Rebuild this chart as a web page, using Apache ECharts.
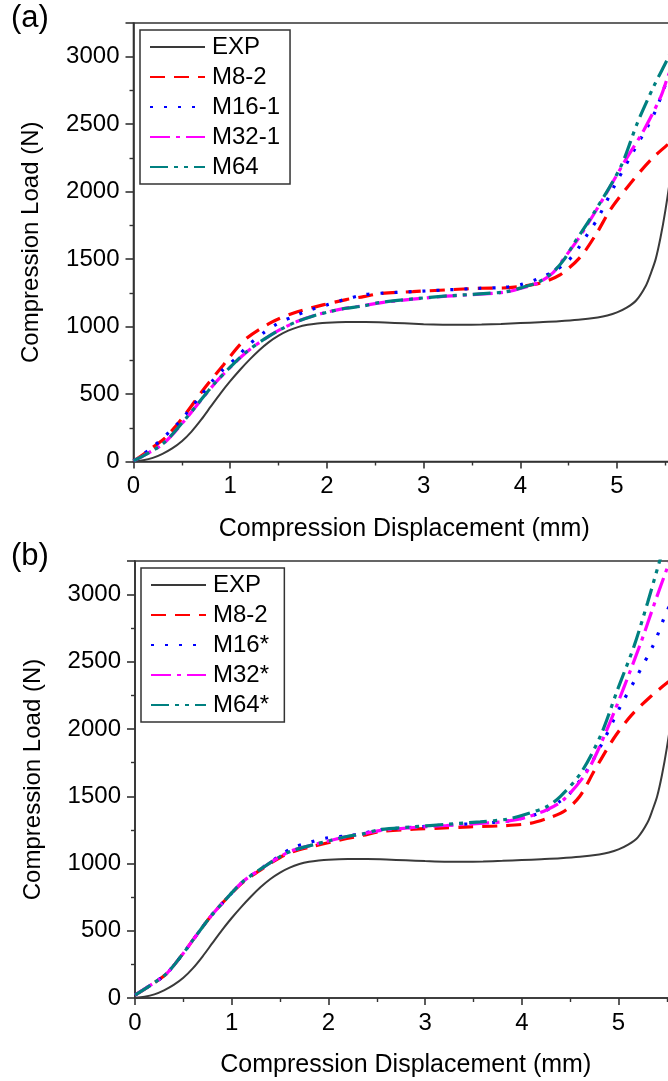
<!DOCTYPE html>
<html>
<head>
<meta charset="utf-8">
<script src="https://cdn.jsdelivr.net/npm/echarts@6/dist/echarts.min.js"></script>
<style>
  html, body { margin: 0; padding: 0; background: #fff; }
  #chart { width: 668px; height: 1081px; }
</style>
</head>
<body>
<div id="chart"></div>
<script>
// Compression load (N) versus compression displacement (mm), [x, y] pairs.

// Experimental curve (same test shown in both panels)
const expCurve = [[0,0],[0.1,9],[0.2,27],[0.3,57],[0.4,97],[0.5,150],[0.6,222],[0.7,310],[0.8,408],[0.9,505],[1.0,595],[1.1,678],[1.2,755],[1.3,825],[1.4,885],[1.5,933],[1.6,970],[1.7,996],[1.8,1013],[1.9,1023],[2.0,1029],[2.2,1033],[2.4,1033],[2.6,1030],[2.8,1024],[3.0,1018],[3.2,1014],[3.4,1013],[3.6,1015],[3.8,1020],[4.0,1026],[4.2,1032],[4.4,1039],[4.6,1050],[4.8,1068],[4.9,1082],[5.0,1105],[5.1,1140],[5.2,1195],[5.3,1305],[5.35,1395],[5.4,1500],[5.45,1660],[5.5,1860],[5.55,2100],[5.6,2400]];

// Panel (a) models
const m8_2 = [[0,5],[0.07,36],[0.2,105],[0.34,184],[0.53,345],[0.72,530],[0.93,716],[1.15,901],[1.41,1025],[1.65,1099],[1.96,1161],[2.2,1200],[2.38,1222],[2.55,1245],[2.89,1259],[3.24,1272],[3.58,1284],[3.82,1286],[4.0,1298],[4.2,1322],[4.41,1383],[4.62,1515],[4.79,1692],[4.93,1865],[5.14,2063],[5.35,2236],[5.52,2347],[5.6,2400]];
const m16_1 = [[0,5],[0.19,102],[0.46,283],[0.69,481],[0.81,592],[0.93,684],[1.07,773],[1.19,864],[1.34,951],[1.48,1018],[1.65,1074],[1.83,1124],[2.0,1161],[2.17,1198],[2.38,1235],[2.55,1247],[2.89,1259],[3.24,1272],[3.58,1284],[3.82,1290],[4.0,1310],[4.17,1351],[4.34,1408],[4.48,1477],[4.6,1581],[4.7,1690],[4.8,1800],[4.97,2038],[5.14,2261],[5.38,2570],[5.52,2829],[5.6,2960]];
const m32_1 = [[0,5],[0.1,42],[0.31,133],[0.53,305],[0.67,430],[0.84,578],[1.0,697],[1.17,812],[1.34,900],[1.51,975],[1.69,1037],[1.86,1080],[2.03,1112],[2.2,1137],[2.38,1155],[2.55,1176],[2.89,1203],[3.24,1225],[3.58,1240],[3.86,1257],[4.03,1288],[4.2,1330],[4.34,1400],[4.44,1494],[4.55,1600],[4.66,1717],[4.87,1964],[5.07,2212],[5.28,2459],[5.45,2700],[5.52,2840],[5.6,2990]];
const m64 = [[0,5],[0.1,41],[0.31,135],[0.53,308],[0.67,432],[0.84,580],[1.0,699],[1.17,814],[1.34,901],[1.51,975],[1.69,1037],[1.86,1079],[2.03,1111],[2.2,1136],[2.38,1153],[2.55,1178],[2.89,1205],[3.24,1227],[3.58,1242],[3.86,1259],[4.03,1292],[4.2,1334],[4.34,1405],[4.45,1494],[4.55,1610],[4.76,1841],[5.04,2187],[5.21,2508],[5.38,2780],[5.52,2978],[5.6,3100]];

// Panel (b) models
const m8_2b = [[0,22],[0.19,109],[0.33,184],[0.5,333],[0.6,432],[0.78,605],[0.95,742],[1.12,862],[1.33,968],[1.5,1045],[1.64,1090],[1.84,1128],[2.02,1158],[2.19,1186],[2.36,1210],[2.53,1238],[2.88,1256],[3.15,1263],[3.46,1273],[3.77,1280],[4.08,1298],[4.3,1345],[4.45,1395],[4.6,1500],[4.75,1690],[4.95,1930],[5.13,2100],[5.33,2240],[5.5,2342],[5.6,2390]];
const m16s = [[0,22],[0.19,109],[0.33,184],[0.5,333],[0.6,432],[0.78,605],[0.95,742],[1.12,868],[1.33,976],[1.5,1060],[1.64,1120],[1.81,1158],[1.98,1190],[2.19,1205],[2.36,1225],[2.53,1250],[2.88,1270],[3.22,1287],[3.57,1299],[3.85,1316],[4.05,1343],[4.26,1398],[4.4,1465],[4.5,1525],[4.68,1700],[4.85,1921],[5.02,2169],[5.19,2392],[5.37,2640],[5.5,2876],[5.6,3000]];
const m32s = [[0,22],[0.19,109],[0.33,184],[0.5,333],[0.6,432],[0.78,605],[0.95,742],[1.12,868],[1.33,973],[1.5,1052],[1.64,1100],[1.84,1139],[2.02,1171],[2.19,1201],[2.36,1221],[2.53,1245],[2.88,1268],[3.22,1283],[3.57,1298],[3.85,1315],[4.05,1345],[4.26,1400],[4.44,1480],[4.68,1690],[4.88,1995],[5.06,2318],[5.23,2640],[5.37,2930],[5.5,3190],[5.6,3380]];
const m64s = [[0,22],[0.19,109],[0.33,184],[0.5,333],[0.6,432],[0.78,605],[0.95,742],[1.12,868],[1.33,973],[1.5,1052],[1.64,1100],[1.84,1139],[2.02,1171],[2.19,1201],[2.36,1221],[2.53,1252],[2.88,1273],[3.22,1292],[3.57,1310],[3.85,1330],[4.05,1368],[4.26,1424],[4.4,1500],[4.61,1673],[4.82,1960],[4.99,2293],[5.16,2615],[5.3,2938],[5.42,3236],[5.5,3420]];

// Axis ranges and ticks
const xMin = 0, xMax = 5.6, xStep = 1;
const yMin = 0, yMax = 3250, yStep = 500;

const legendA = ['EXP', 'M8-2', 'M16-1', 'M32-1', 'M64'];
const legendB = ['EXP ', 'M8-2 ', 'M16*', 'M32*', 'M64*'];

const FONT = 'Liberation Sans, Arial, Helvetica, sans-serif';
const AXIS_COLOR = '#333';

// line styles per model
const styles = {
  exp:  { color: '#3a3a3a', width: 2,   type: 'solid' },
  m8:   { color: '#ff0000', width: 3.2, type: [15, 9] },
  m16:  { color: '#0000ff', width: 3.2, type: [3, 11] },
  m32:  { color: '#ff00ff', width: 3.2, type: [20, 6, 4, 6] },
  m64:  { color: '#008080', width: 3.2, type: [18, 6, 4, 6, 4, 6] }
};

function makeSeries(name, data, st, idx) {
  return {
    name: name,
    type: 'line',
    xAxisIndex: idx,
    yAxisIndex: idx,
    data: data,
    smooth: 0.3,
    symbol: 'none',
    animation: false,
    color: st.color,
    lineStyle: { color: st.color, width: st.width, type: st.type },
    z: st.type === 'solid' ? 2 : 3
  };
}

function xAxisFor(idx) {
  return {
    gridIndex: idx,
    type: 'value',
    min: xMin, max: xMax, interval: xStep,
    name: 'Compression Displacement (mm)',
    nameLocation: 'middle',
    nameGap: 55,
    nameTextStyle: { fontSize: 25, fontFamily: FONT, color: '#000' },
    axisLine: { show: true, onZero: false, lineStyle: { color: AXIS_COLOR, width: 1.6 } },
    axisTick: { show: true, length: 7, lineStyle: { color: AXIS_COLOR, width: 1.6 } },
    minorTick: { show: true, splitNumber: 2, length: 4, lineStyle: { color: AXIS_COLOR, width: 1.4 } },
    axisLabel: { fontSize: 24, fontFamily: FONT, color: '#000', margin: 13,
      formatter: v => (v > 5.05 ? '' : String(v)) },
    splitLine: { show: false }
  };
}

function yAxisFor(idx) {
  return {
    gridIndex: idx,
    type: 'value',
    min: yMin, max: yMax, interval: yStep,
    name: 'Compression Load (N)',
    nameLocation: 'middle',
    nameGap: 90,
    nameTextStyle: { fontSize: 24, fontFamily: FONT, color: '#000' },
    axisLine: { show: true, onZero: false, lineStyle: { color: AXIS_COLOR, width: 1.6 } },
    axisTick: { show: true, length: 8, lineStyle: { color: AXIS_COLOR, width: 1.6 } },
    minorTick: { show: true, splitNumber: 2, length: 4, lineStyle: { color: AXIS_COLOR, width: 1.4 } },
    axisLabel: { fontSize: 24, fontFamily: FONT, color: '#000', margin: 14,
      formatter: v => (v > 3001 ? '' : String(v)) },
    splitLine: { show: false }
  };
}

function legendFor(names, left, top) {
  return {
    data: names,
    orient: 'vertical',
    left: left, top: top,
    itemWidth: 55, itemHeight: 14, itemGap: 6,
    padding: [5, 10, 5, 9],
    borderColor: '#333', borderWidth: 1.5,
    backgroundColor: '#fff',
    selectedMode: false,
    itemStyle: { opacity: 0 },
    textStyle: { fontSize: 24, lineHeight: 24, fontFamily: FONT, color: '#000', padding: [0, 0, 0, 2] }
  };
}

const chart = echarts.init(document.getElementById('chart'), null, { renderer: 'canvas' });
const pxPerUnit = 96.7;
const gridWidth = (xMax - xMin) * pxPerUnit;

chart.setOption({
  backgroundColor: '#fff',
  animation: false,
  grid: [
    { left: 133.5, top: 23, width: gridWidth, height: 438.5, show: true, borderColor: AXIS_COLOR, borderWidth: 1.6, backgroundColor: 'transparent', containLabel: false, outerBoundsMode: 'none' },
    { left: 135, top: 561, width: gridWidth, height: 437, show: true, borderColor: AXIS_COLOR, borderWidth: 1.6, backgroundColor: 'transparent', containLabel: false, outerBoundsMode: 'none' }
  ],
  xAxis: [xAxisFor(0), xAxisFor(1)],
  yAxis: [yAxisFor(0), yAxisFor(1)],
  legend: [legendFor(legendA, 140, 30), legendFor(legendB, 141, 568)],
  graphic: [
    { type: 'text', left: 11, top: 3, style: { text: '(a)', fontSize: 31, fontFamily: FONT, fill: '#000' } },
    { type: 'text', left: 11, top: 541, style: { text: '(b)', fontSize: 31, fontFamily: FONT, fill: '#000' } }
  ],
  series: [
    makeSeries('EXP', expCurve, styles.exp, 0),
    makeSeries('M8-2', m8_2, styles.m8, 0),
    makeSeries('M16-1', m16_1, styles.m16, 0),
    makeSeries('M32-1', m32_1, styles.m32, 0),
    makeSeries('M64', m64, styles.m64, 0),
    makeSeries('EXP ', expCurve, styles.exp, 1),
    makeSeries('M8-2 ', m8_2b, styles.m8, 1),
    makeSeries('M16*', m16s, styles.m16, 1),
    makeSeries('M32*', m32s, styles.m32, 1),
    makeSeries('M64*', m64s, styles.m64, 1)
  ]
});
</script>
</body>
</html>
